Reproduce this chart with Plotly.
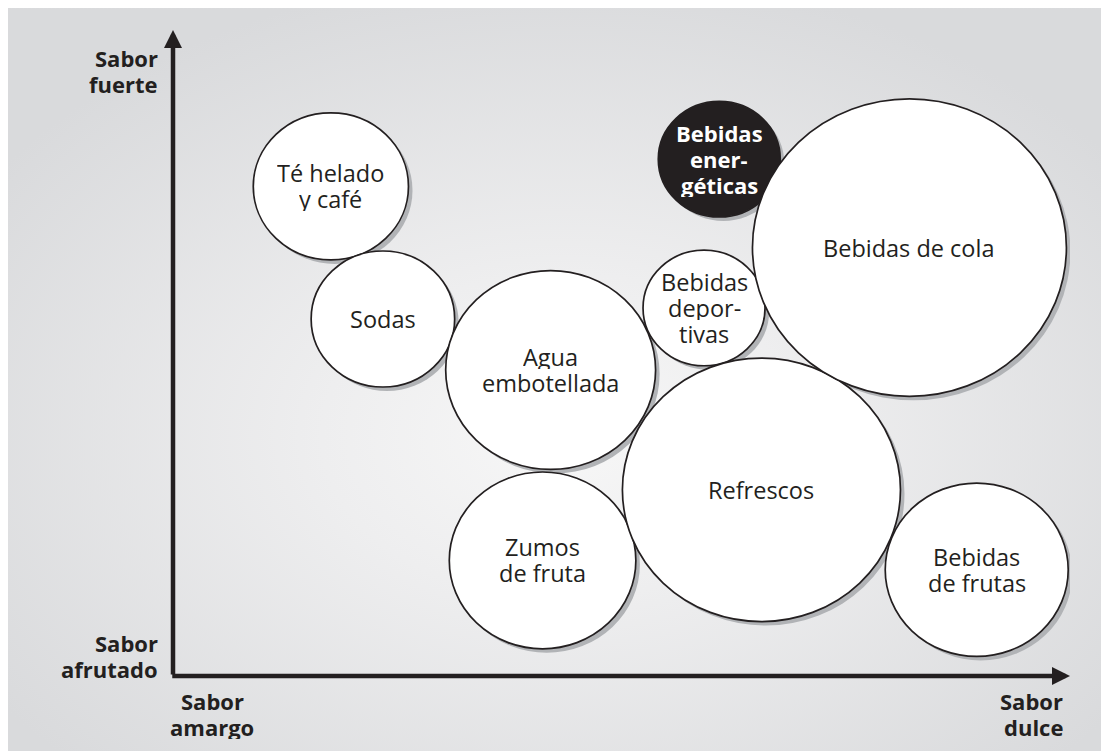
"""Mapa de posicionamiento de bebidas: sabor amargo/dulce frente a afrutado/fuerte.
Run: python plot.py  ->  out.html
"""
import base64
import plotly.graph_objects as go

# ---------- datos ----------
BEBIDAS = ["Té helado<br>y café", "Sodas", "Agua<br>embotellada", "Zumos<br>de fruta",
           "Bebidas<br>depor-<br>tivas", "Bebidas<br>ener-<br>géticas", "Refrescos",
           "Bebidas<br>de frutas", "Bebidas de cola"]
DULZOR = [17.6, 23.4, 42.1, 41.2, 59.2, 60.9, 65.6, 89.6, 82.1]   # amargo -> dulce
FUERZA = [57.6, 42.0, 36.0, 13.6, 43.3, 60.8, 21.9, 12.5, 50.4]   # afrutado -> fuerte
TAMANO = [8.65, 8.0, 11.7, 10.4, 6.8, 6.8, 15.5, 10.2, 17.5]      # radio de la burbuja
DESTACADA = ["Bebidas<br>ener-<br>géticas"]

EJE_X = ["Sabor<br>amargo", "Sabor<br>dulce"]
EJE_Y = ["Sabor<br>afrutado", "Sabor<br>fuerte"]

TINTA = "#231f20"
FUENTE = "Open Sans, Noto Sans, sans-serif"
X_MAX, Y_MAX = 100, 76
SOMBRA = (0.45, 0.47)   # desplazamiento de la sombra en unidades de eje (~4 px)
INTERLINEA = 26          # px entre líneas de texto

fig = go.Figure()
# trazo invisible, sólo para el hover
fig.add_scatter(x=DULZOR, y=FUERZA, mode="markers", marker=dict(opacity=0),
                hovertext=[b.replace("<br>", " ").replace("- ", "") for b in BEBIDAS],
                hoverinfo="text", showlegend=False)

shapes = []
for x, y, r in zip(DULZOR, FUERZA, TAMANO):
    dx, dy = SOMBRA
    shapes.append(dict(type="circle", xref="x", yref="y", x0=x - r + dx, x1=x + r + dx,
                       y0=y - r - dy, y1=y + r - dy, fillcolor="#b1b3b6", line_width=0))
for b, x, y, r in zip(BEBIDAS, DULZOR, FUERZA, TAMANO):
    shapes.append(dict(type="circle", xref="x", yref="y", x0=x - r, x1=x + r, y0=y - r, y1=y + r,
                       fillcolor=TINTA if b in DESTACADA else "white",
                       line=dict(color=TINTA, width=1.7)))

annotations = []


def lineas(texto, x, y, xref, yref, xanchor, font):
    ls = texto.split("<br>")
    n = len(ls)
    for i, t in enumerate(ls):
        annotations.append(dict(text=t, x=x, y=y, xref=xref, yref=yref, xanchor=xanchor,
                                yanchor="middle", yshift=((n - 1) / 2 - i) * INTERLINEA,
                                height=INTERLINEA - 2, showarrow=False, font=font))


for b, x, y in zip(BEBIDAS, DULZOR, FUERZA):
    if b in DESTACADA:
        f = dict(family=FUENTE, size=22, color="white", weight="bold")
    else:
        f = dict(family=FUENTE, size=23.5, color=TINTA)
    lineas(b, x, y, "x", "y", "center", f)

fb = dict(family=FUENTE, size=22, color=TINTA, weight="bold")
lineas(EJE_Y[1], -0.0145, 0.936, "paper", "paper", "right", fb)
lineas(EJE_Y[0], -0.0145, 0.031, "paper", "paper", "right", fb)
lineas(EJE_X[0], 0.0435, -0.0587, "paper", "paper", "center", fb)
lineas(EJE_X[1], 0.9944, -0.0587, "paper", "paper", "right", fb)

# ejes con flecha
for tip, tail in [((0, Y_MAX), (0, 0)), ((X_MAX, 0), (-0.25, 0))]:
    annotations.append(dict(text="", x=tip[0], y=tip[1], ax=tail[0], ay=tail[1], xref="x", yref="y",
                            axref="x", ayref="y", showarrow=True, arrowhead=2, arrowsize=0.8,
                            arrowwidth=4.5, arrowcolor=TINTA))

# fondo gris con degradado radial (ocupa toda la figura)
svg = ("<svg xmlns='http://www.w3.org/2000/svg' width='1109' height='751' preserveAspectRatio='none'>"
       "<defs><radialGradient id='g' cx='0.5' cy='0.57' r='0.62'>"
       "<stop offset='0' stop-color='#f7f7f7'/><stop offset='0.35' stop-color='#eeeeef'/>"
       "<stop offset='1' stop-color='#d9dadc'/></radialGradient></defs>"
       "<rect width='1109' height='751' fill='url(#g)'/></svg>")
src = "data:image/svg+xml;base64," + base64.b64encode(svg.encode()).decode()

fig.update_layout(
    width=1109, height=751, margin=dict(l=165, r=47, t=22, b=83),
    paper_bgcolor="#dcdddf", plot_bgcolor="rgba(0,0,0,0)",
    xaxis=dict(range=[0, X_MAX], visible=False, fixedrange=True),
    yaxis=dict(range=[0, Y_MAX], visible=False, fixedrange=True),
    shapes=shapes, annotations=annotations, showlegend=False,
    images=[dict(source=src, xref="paper", yref="paper", x=-0.1839, y=1.034,
                 sizex=1.2363, sizey=1.1625, sizing="stretch", layer="below")],
)
fig.write_html("out.html")
